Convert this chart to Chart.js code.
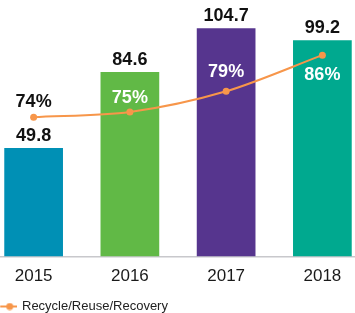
<!DOCTYPE html>
<html>
<head>
<meta charset="utf-8">
<script src="https://cdn.jsdelivr.net/npm/chart.js@4.4.1/dist/chart.umd.min.js"></script>
<style>
  html, body { margin: 0; padding: 0; background: #ffffff; overflow: hidden; }
  #clip { width: 355px; height: 313px; overflow: hidden; position: relative; }
  #wrap { width: 392px; height: 323px; position: absolute; left: -18px; top: 0; }
</style>
</head>
<body>
<div id="clip"><div id="wrap"><canvas id="c"></canvas></div></div>
<script>
const categories = ['2015', '2016', '2017', '2018'];
const tonnage = [49.8, 84.6, 104.7, 99.2];
const recycleRate = [74, 75, 79, 86];
const seriesName = 'Recycle/Reuse/Recovery';

const FONT = '"Liberation Sans", Arial, Helvetica, sans-serif';
const barColors = ['#0090b5', '#61b946', '#56358e', '#00a98f'];
const lineColor = '#f7964a';

// legend icon: short line with a dot
const icon = document.createElement('canvas');
icon.width = 34; icon.height = 8;
(function () {
  const g = icon.getContext('2d');
  g.strokeStyle = lineColor; g.lineWidth = 2;
  g.beginPath(); g.moveTo(17, 4); g.lineTo(34, 4); g.stroke();
  g.fillStyle = lineColor;
  g.beginPath(); g.arc(26.5, 4, 3.5, 0, Math.PI * 2); g.fill();
})();

const labelPlugin = {
  id: 'valueLabels',
  afterDatasetsDraw(chart) {
    const ctx = chart.ctx;
    ctx.save();
    ctx.font = 'bold 18px ' + FONT;
    ctx.textAlign = 'center';
    ctx.textBaseline = 'middle';
    chart.getDatasetMeta(0).data.forEach((el, i) => {
      ctx.fillStyle = '#111111';
      ctx.fillText(String(tonnage[i]), el.x, el.y - 12);
    });
    const offsets = [-15, -14, -19, 20];
    const colors = ['#111111', '#ffffff', '#ffffff', '#ffffff'];
    chart.getDatasetMeta(1).data.forEach((el, i) => {
      ctx.fillStyle = colors[i];
      ctx.fillText(recycleRate[i] + '%', el.x, el.y + offsets[i]);
    });
    ctx.restore();
  }
};

new Chart(document.getElementById('c'), {
  data: {
    labels: categories,
    datasets: [
      {
        type: 'bar',
        label: 'Tonnage',
        data: tonnage,
        backgroundColor: barColors,
        borderWidth: 0,
        categoryPercentage: 1,
        barPercentage: 0.61,
        yAxisID: 'y',
        order: 2
      },
      {
        type: 'line',
        label: seriesName,
        data: recycleRate,
        borderColor: lineColor,
        backgroundColor: lineColor,
        borderWidth: 2,
        pointRadius: 3.5,
        pointHoverRadius: 3.5,
        pointBackgroundColor: lineColor,
        pointBorderWidth: 0,
        tension: 0.3,
        yAxisID: 'y2',
        order: 1
      }
    ]
  },
  options: {
    responsive: true,
    maintainAspectRatio: false,
    animation: false,
    layout: { padding: 0 },
    plugins: {
      tooltip: { enabled: false },
      legend: {
        display: true,
        position: 'bottom',
        align: 'start',
        labels: {
          usePointStyle: true,
          pointStyleWidth: 30.5,
          padding: 3,
          color: '#222222',
          font: { family: FONT, size: 13 },
          filter: (item) => item.datasetIndex === 1,
          generateLabels: (chart) => {
            const items = Chart.defaults.plugins.legend.labels.generateLabels(chart);
            items.forEach(it => { it.pointStyle = icon; });
            return items;
          }
        }
      }
    },
    scales: {
      x: {
        grid: { display: false, drawTicks: false },
        border: { display: true, color: '#c8c8cc', width: 1.5 },
        ticks: { color: '#1a1a1a', font: { family: FONT, size: 17 }, padding: 10 }
      },
      y: { display: false, min: 0, max: 116 },
      y2: { display: false, min: 47, max: 96, position: 'right' }
    }
  },
  plugins: [labelPlugin]
});
</script>
</body>
</html>
